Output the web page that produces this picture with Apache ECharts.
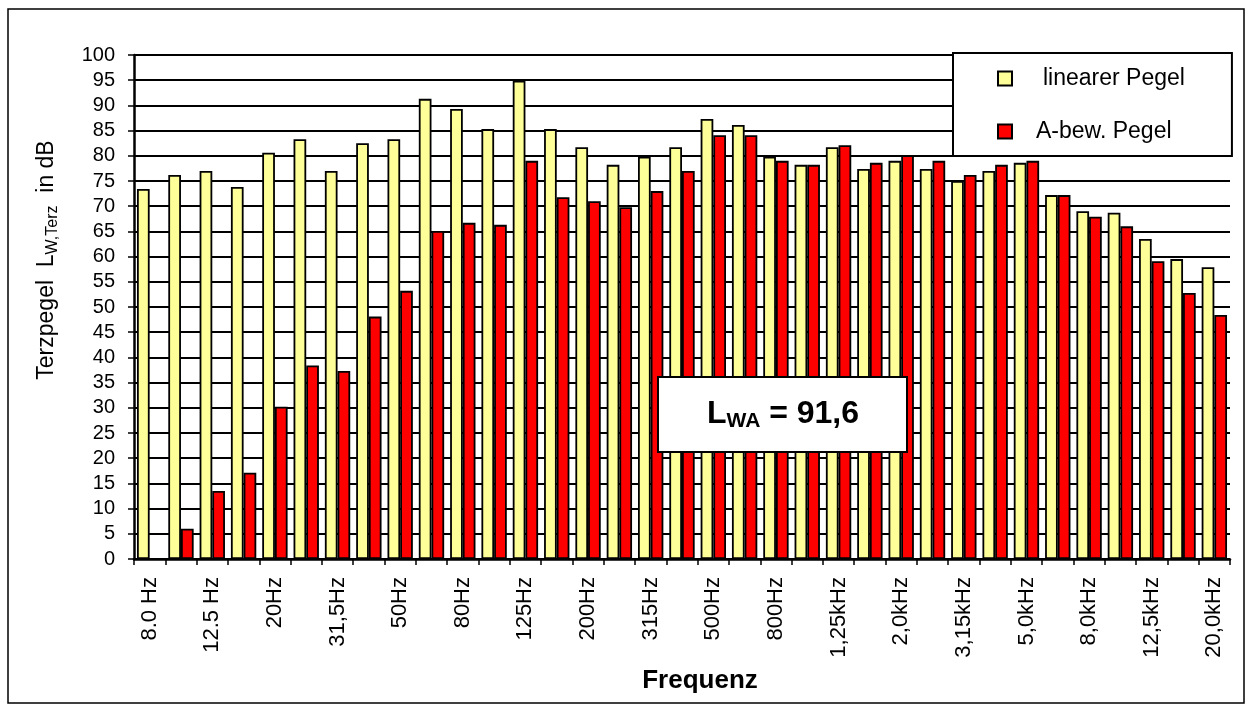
<!DOCTYPE html>
<html>
<head>
<meta charset="utf-8">
<script src="https://cdn.jsdelivr.net/npm/echarts@6/dist/echarts.min.js"></script>
<style>
html,body{margin:0;padding:0;background:#fff;}
#c{width:1253px;height:710px;}
</style>
</head>
<body>
<div id="c"></div>
<script>
// Third-octave band centre frequencies (every second label is shown)
const categories = ["8.0 Hz","10 Hz","12.5 Hz","16 Hz","20Hz","25Hz","31,5Hz","40Hz","50Hz","63Hz",
  "80Hz","100Hz","125Hz","160Hz","200Hz","250Hz","315Hz","400Hz","500Hz","630Hz",
  "800Hz","1,0kHz","1,25kHz","1,6kHz","2,0kHz","2,5kHz","3,15kHz","4,0kHz","5,0kHz","6,3kHz",
  "8,0kHz","10,0kHz","12,5kHz","16,0kHz","20,0kHz"];

// linearer Pegel (dB)
const linearPegel = [73.4,76.2,77.0,73.8,80.6,83.3,77.0,82.5,83.3,91.3,
  89.3,85.3,94.9,85.3,81.7,78.2,79.8,81.7,87.3,86.1,
  79.8,78.2,81.7,77.4,79.0,77.4,75.0,77.0,78.6,72.2,
  69.0,68.7,63.5,59.5,57.9];

// A-bewerteter Pegel (dB)
const aBewPegel = [null,6.0,13.5,17.1,30.2,38.4,37.3,48.1,53.2,65.1,
  66.7,66.3,79.0,71.8,71.0,69.8,73.0,77.0,84.1,84.1,
  79.0,78.2,82.1,78.6,80.1,79.0,76.2,78.2,79.0,72.2,
  67.9,66.0,59.1,52.8,48.4];

const seriesNames = ["linearer Pegel","A-bew. Pegel"];
const yMin = 0, yMax = 100, yStep = 5;
const xTitle = "Frequenz";

const FONT = "'Liberation Sans', Arial, Helvetica, sans-serif";
const chart = echarts.init(document.getElementById('c'), null, {renderer:'canvas'});

const option = {
  animation: false,
  backgroundColor: '#fff',
  textStyle: {fontFamily: FONT, color: '#000'},
  grid: {left: 134, right: 23, top: 55, bottom: 151},
  legend: {
    orient: 'vertical',
    left: 953, top: 53,
    itemWidth: 14, itemHeight: 14, itemGap: 30,
    icon: 'rect',
    backgroundColor: '#fff',
    borderColor: '#000', borderWidth: 2, borderRadius: 0,
    padding: [14, 47, 13, 44],
    textStyle: {fontSize: 23, color: '#000', fontFamily: FONT},
    data: [
      {name: seriesNames[0], textStyle: {padding: [0,0,0,26]}},
      {name: seriesNames[1], textStyle: {padding: [0,0,0,19]}}
    ]
  },
  xAxis: {
    type: 'category',
    data: categories,
    boundaryGap: true,
    axisLine: {show: true, lineStyle: {color: '#000', width: 2.5}},
    axisTick: {show: true, interval: 0, length: 6, lineStyle: {color: '#000', width: 1.5}},
    axisLabel: {interval: 1, rotate: 90, margin: 18, fontSize: 22, color: '#000', fontFamily: FONT},
    splitLine: {show: false}
  },
  yAxis: {
    type: 'value',
    min: yMin, max: yMax, interval: yStep,
    axisLine: {show: true, lineStyle: {color: '#000', width: 2.5}},
    axisTick: {show: true, length: 6, lineStyle: {color: '#000', width: 1.5}},
    axisLabel: {margin: 19, fontSize: 20, color: '#000', fontFamily: FONT},
    splitLine: {show: true, lineStyle: {color: '#000', width: 2}}
  },
  series: [
    {
      name: seriesNames[0], type: 'bar', data: linearPegel,
      barGap: '0%', barCategoryGap: '19%',
      itemStyle: {color: '#FFFF99', borderColor: '#000', borderWidth: 1.8}
    },
    {
      name: seriesNames[1], type: 'bar', data: aBewPegel,
      barGap: '0%', barCategoryGap: '19%',
      itemStyle: {color: '#FF0000', borderColor: '#000', borderWidth: 1.8}
    }
  ],
  graphic: [
    {
      type: 'rect', silent: true, z: 100,
      shape: {x: 8, y: 9, width: 1236, height: 694},
      style: {fill: null, stroke: '#000', lineWidth: 1.5}
    },
    {
      type: 'text', silent: true, z: 100,
      x: 47, y: 260, rotation: Math.PI / 2,
      style: {
        text: '{n|Terzpegel  L}{s|W,Terz}{n|  in dB}',
        align: 'center', verticalAlign: 'middle',
        rich: {
          n: {fontSize: 23, fontFamily: FONT, fill: '#000', color: '#000', lineHeight: 27},
          s: {fontSize: 16, fontFamily: FONT, fill: '#000', color: '#000', lineHeight: 16, verticalAlign: 'bottom'}
        }
      }
    },
    {
      type: 'text', silent: true, z: 100,
      x: 700, y: 681,
      style: {
        text: xTitle, fontSize: 26, fontWeight: 'bold', fontFamily: FONT, fill: '#000',
        align: 'center', verticalAlign: 'middle'
      }
    },
    {
      type: 'group', z: 100, silent: true,
      children: [
        {
          type: 'rect', z: 100,
          shape: {x: 658, y: 377, width: 249, height: 75},
          style: {fill: '#fff', stroke: '#000', lineWidth: 2}
        },
        {
          type: 'text', z: 101,
          x: 783, y: 414,
          style: {
            text: '{a|L}{b|WA}{a| = 91,6}',
            align: 'center', verticalAlign: 'middle',
            rich: {
              a: {fontSize: 32, fontWeight: 'bold', fontFamily: FONT, fill: '#000', color: '#000', lineHeight: 36},
              b: {fontSize: 21, fontWeight: 'bold', fontFamily: FONT, fill: '#000', color: '#000', lineHeight: 20, verticalAlign: 'bottom'}
            }
          }
        }
      ]
    }
  ]
};
chart.setOption(option);
</script>
</body>
</html>
